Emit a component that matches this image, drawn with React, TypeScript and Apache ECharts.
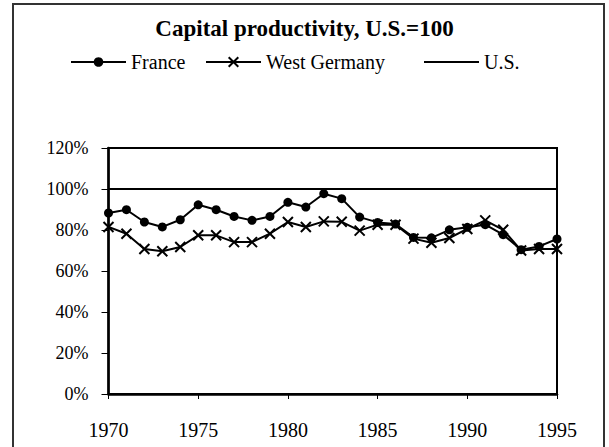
import React, { useEffect, useRef } from "react";
import * as echarts from "echarts";

const years = [1970, 1971, 1972, 1973, 1974, 1975, 1976, 1977, 1978, 1979, 1980, 1981, 1982, 1983, 1984, 1985, 1986, 1987, 1988, 1989, 1990, 1991, 1992, 1993, 1994, 1995];
const france = [88.3, 89.9, 83.9, 81.5, 85.0, 92.3, 89.9, 86.6, 84.7, 86.6, 93.5, 91.2, 97.7, 95.3, 86.3, 83.7, 82.9, 76.4, 76.2, 80.1, 81.3, 82.6, 77.7, 70.4, 72.0, 75.6];
const westGermany = [81.5, 78.2, 70.7, 69.6, 71.7, 77.4, 77.4, 74.1, 74.1, 78.2, 83.9, 81.5, 84.2, 84.0, 79.7, 82.6, 82.6, 75.8, 73.8, 76.1, 80.5, 84.7, 80.1, 70.0, 70.7, 70.7];
const us = [100, 100, 100, 100, 100, 100, 100, 100, 100, 100, 100, 100, 100, 100, 100, 100, 100, 100, 100, 100, 100, 100, 100, 100, 100, 100];
const yTicks = [0, 20, 40, 60, 80, 100, 120];

const TITLE = "Capital productivity, U.S.=100";
const FONT = '"Liberation Serif", "Times New Roman", serif';

export default function App() {
  const ref = useRef<HTMLDivElement>(null);
  useEffect(() => {
    if (!ref.current) return;
    const chart = echarts.init(ref.current, null, { renderer: "svg" });
    const pair = (arr: number[]) => years.map((y, i) => [y, arr[i]]);
    const crossPath = "path://M0,0L10,10M10,0L0,10";
    const legendBase = {
      top: 52,
      padding: 0,
      itemWidth: 55,
      itemHeight: 12,
      textStyle: { fontFamily: FONT, fontSize: 20, color: "#000" },
    };
    chart.setOption({
      animation: false,
      backgroundColor: "#fff",
      textStyle: { fontFamily: FONT },
      title: {
        text: TITLE,
        left: "center",
        top: 17,
        padding: 0,
        textStyle: { fontFamily: FONT, fontSize: 23, fontWeight: "bold", color: "#000" },
      },
      legend: [
        { ...legendBase, left: 70, data: ["France"] },
        { ...legendBase, left: 205, data: ["West Germany"] },
        { ...legendBase, left: 424, itemHeight: 2, data: [{ name: "U.S.", icon: "rect" }] },
      ],
      graphic: [
        {
          type: "rect",
          shape: { x: 13, y: 4, width: 591, height: 460 },
          style: { fill: "none", stroke: "#333", lineWidth: 2 },
          silent: true,
        },
      ],
      grid: {
        left: 108.5,
        right: 52,
        top: 148,
        bottom: 53,
        show: true,
        borderColor: "#000",
        borderWidth: 2,
        backgroundColor: "transparent",
      },
      xAxis: {
        type: "value",
        min: 1970,
        max: 1995,
        interval: 5,
        splitLine: { show: false },
        axisLine: { show: true, lineStyle: { color: "#000", width: 2.5 } },
        axisTick: { show: true, length: 5, lineStyle: { color: "#000", width: 1 } },
        axisLabel: {
          margin: 26,
          fontFamily: FONT,
          fontSize: 20,
          color: "#000",
          formatter: (v: number) => String(v),
        },
      },
      yAxis: {
        type: "value",
        min: yTicks[0],
        max: yTicks[yTicks.length - 1],
        interval: 20,
        splitLine: { show: false },
        axisLine: { show: true, lineStyle: { color: "#000", width: 2.5 } },
        axisTick: { show: true, length: 7, lineStyle: { color: "#000", width: 1 } },
        axisLabel: {
          margin: 20,
          fontFamily: FONT,
          fontSize: 18,
          color: "#000",
          formatter: (v: number) => v + "%",
        },
      },
      series: [
        {
          name: "France",
          type: "line",
          data: pair(france),
          symbol: "circle",
          symbolSize: 9,
          showAllSymbol: true,
          itemStyle: { color: "#000" },
          lineStyle: { color: "#000", width: 2 },
          z: 3,
        },
        {
          name: "West Germany",
          type: "line",
          data: pair(westGermany),
          symbol: crossPath,
          symbolSize: 10,
          showAllSymbol: true,
          itemStyle: { color: "#000", borderColor: "#000", borderWidth: 2 },
          lineStyle: { color: "#000", width: 2 },
          z: 2,
        },
        {
          name: "U.S.",
          type: "line",
          data: pair(us),
          symbol: "none",
          lineStyle: { color: "#000", width: 2 },
          itemStyle: { color: "#000" },
          z: 1,
        },
      ],
    });
    return () => chart.dispose();
  }, []);
  return (
    <div
      ref={ref}
      style={{ position: "absolute", left: 0, top: 0, width: 609, height: 447, background: "#fff" }}
    />
  );
}
